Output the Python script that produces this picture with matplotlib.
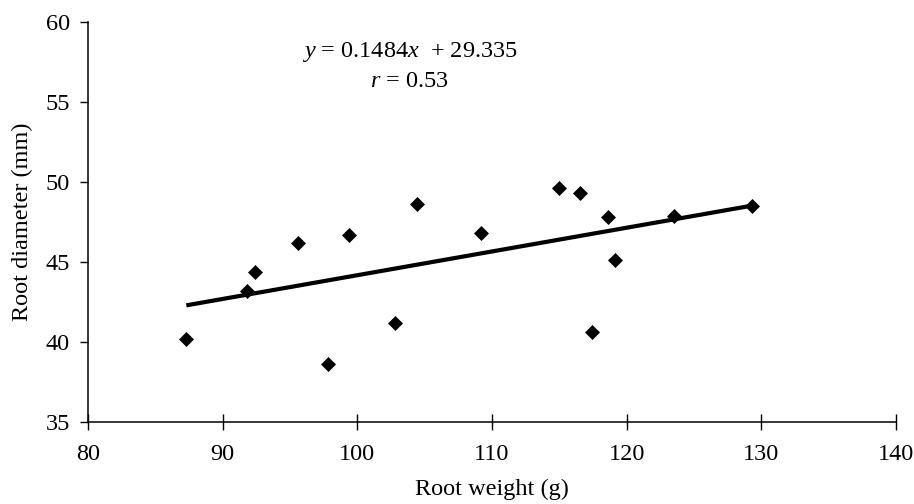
import numpy as np
import matplotlib
matplotlib.use("Agg")
import matplotlib.pyplot as plt

plt.rcParams.update({
    "font.family": ["Liberation Serif", "DejaVu Serif"],
    "mathtext.fontset": "custom",
    "mathtext.rm": "Liberation Serif",
    "mathtext.it": "Liberation Serif:italic",
    "axes.spines.top": False,
    "axes.spines.right": False,
    "figure.dpi": 100,
})

# root weight (g) and root diameter (mm)
root_weight = [87.3, 91.8, 92.4, 95.6, 97.8, 99.4, 102.8, 104.4,
               109.2, 115.0, 116.5, 117.4, 118.6, 119.1, 123.5, 129.3]
root_diameter = [40.2, 43.2, 44.4, 46.2, 38.6, 46.7, 41.2, 48.6,
                 46.8, 49.6, 49.3, 40.6, 47.8, 45.1, 47.9, 48.5]

slope = 0.1484
intercept = 29.335
r_value = 0.53

x_ticks = [80, 90, 100, 110, 120, 130, 140]
y_ticks = [35, 40, 45, 50, 55, 60]

FS = 17.5

fig = plt.figure(figsize=(9.14, 5.04))
ax = fig.add_axes([0.0963, 0.1627, 0.884, 0.7936])

x = np.array(root_weight)
y = np.array(root_diameter)

xl = np.array([x.min(), x.max()])
ax.plot(xl, slope * xl + intercept, color="black", lw=3.0, zorder=2,
        solid_capstyle="butt")
ax.plot(x, y, ls="none", marker="D", markersize=7.4, color="black",
        markeredgewidth=0.5, zorder=3)

ax.set_xlim(80, 140)
ax.set_ylim(35, 60)
ax.set_xticks(x_ticks)
ax.set_yticks(y_ticks)

for s in ("left", "bottom"):
    ax.spines[s].set_linewidth(1.1)
    ax.spines[s].set_color("black")

ax.tick_params(axis="x", direction="inout", length=11, width=1, pad=10.5,
               labelsize=FS)
ax.tick_params(axis="y", direction="out", length=6, width=1, pad=7,
               labelsize=FS)

ax.set_xlabel("Root weight (g)", fontsize=FS, labelpad=10)
ax.set_ylabel("Root diameter (mm)", fontsize=FS, labelpad=9)

ax.text(0.398, 0.925, r"$y$ = 0.1484$x$  + 29.335", transform=ax.transAxes,
        ha="center", va="center", fontsize=FS)
ax.text(0.398, 0.852, r"$r$ = " + f"{r_value:.2f}", transform=ax.transAxes,
        ha="center", va="center", fontsize=FS)

fig.savefig("out.png", dpi=100)
